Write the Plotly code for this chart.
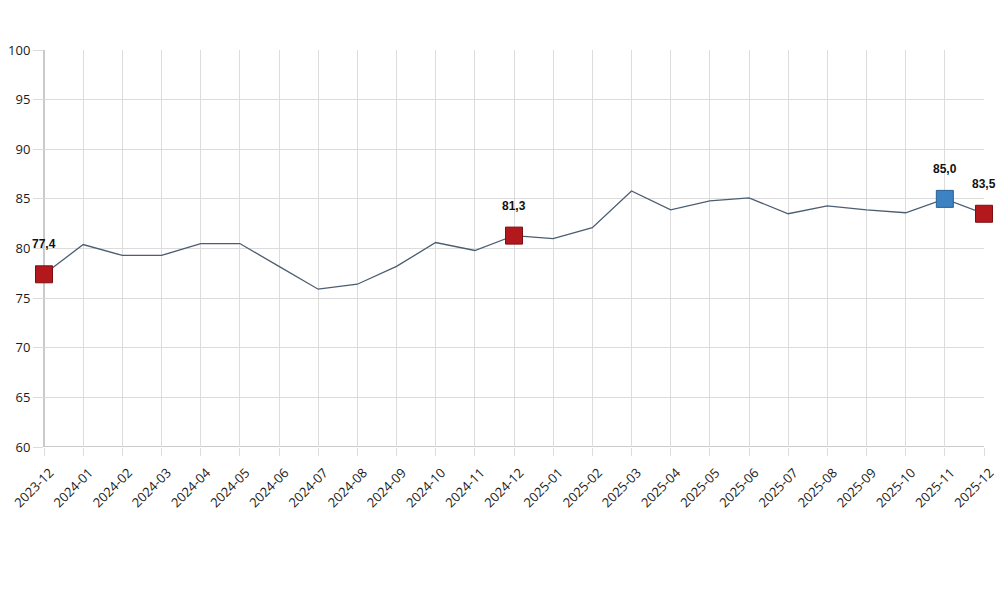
import plotly.graph_objects as go

months = [
    "2023-12", "2024-01", "2024-02", "2024-03", "2024-04", "2024-05", "2024-06",
    "2024-07", "2024-08", "2024-09", "2024-10", "2024-11", "2024-12", "2025-01",
    "2025-02", "2025-03", "2025-04", "2025-05", "2025-06", "2025-07", "2025-08",
    "2025-09", "2025-10", "2025-11", "2025-12",
]
values = [
    77.4, 80.4, 79.3, 79.3, 80.5, 80.5, 78.2, 75.9, 76.4, 78.2, 80.6, 79.8, 81.3,
    81.0, 82.1, 85.8, 83.9, 84.8, 85.1, 83.5, 84.3, 83.9, 83.6, 85.0, 83.5,
]

# highlighted points: red = December readings, blue = previous month
red_months = ["2023-12", "2024-12", "2025-12"]
red_values = [77.4, 81.3, 83.5]
blue_months = ["2025-11"]
blue_values = [85.0]

fig = go.Figure()

fig.add_trace(go.Scatter(
    x=months, y=values,
    mode="lines",
    line=dict(color="#4b5d70", width=1.3),
    hoverinfo="skip",
    cliponaxis=False,
))

fig.add_trace(go.Scatter(
    x=red_months, y=red_values,
    mode="markers",
    marker=dict(symbol="square", size=17, color="#b3181d",
                line=dict(color="#7a1014", width=1)),
    cliponaxis=False,
))

fig.add_trace(go.Scatter(
    x=blue_months, y=blue_values,
    mode="markers",
    marker=dict(symbol="square", size=17, color="#3d83c3",
                line=dict(color="#2a5f94", width=1)),
    cliponaxis=False,
))

# value labels above the highlighted points
annotations = []
for m, v in zip(red_months + blue_months, red_values + blue_values):
    annotations.append(dict(
        x=m, y=v, text="<b>" + f"{v:.1f}".replace(".", ",") + "</b>",
        showarrow=False, yshift=30,
        font=dict(family="Liberation Sans, Arial", size=12, color="#111"),
    ))

fig.update_layout(
    width=1000, height=593,
    paper_bgcolor="white", plot_bgcolor="white",
    margin=dict(l=44, r=16, t=50, b=146, autoexpand=False),
    showlegend=False,
    annotations=annotations,
    font=dict(family="Open Sans, DejaVu Sans", color="#222"),
    xaxis=dict(
        type="category", range=[0, 24], automargin=False,
        tickangle=-45, tickfont=dict(size=13, color="#1a1a1a"),
        ticklabelshift=6, ticklabelstandoff=4,
        showgrid=True, gridcolor="#dcdcdc", gridwidth=1,
        ticks="outside", ticklen=8, tickcolor="#dcdcdc",
        showline=False, zeroline=False,
    ),
    yaxis=dict(
        range=[60, 100], dtick=5, automargin=False,
        tickfont=dict(size=13, color="#1a1a1a"),
        showgrid=True, gridcolor="#dcdcdc", gridwidth=1,
        ticks="outside", ticklen=10, tickcolor="#dcdcdc",
        showline=False, zeroline=False,
    ),
)

fig.add_shape(type="line", xref="paper", yref="y", x0=0, x1=1, y0=60, y1=60,
              line=dict(color="#b8b8b8", width=1.5), layer="below")
fig.add_shape(type="line", xref="paper", yref="paper", x0=0, x1=0, y0=0, y1=1,
              line=dict(color="#b8b8b8", width=1.5), layer="below")

# drop the default 8px body margin so the figure fills the window exactly
fig.write_html(
    "out.html",
    config={"displayModeBar": False},
    post_script="document.body.style.margin='0';document.body.style.overflow='hidden';",
)
